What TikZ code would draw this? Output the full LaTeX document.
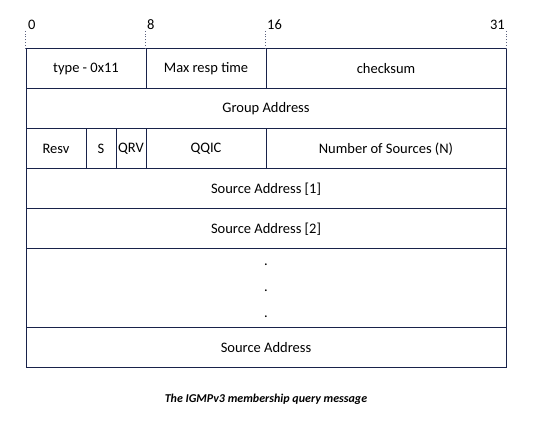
\documentclass[tikz,border=0pt]{standalone}
\usepackage{fontspec}
\setmainfont{Carlito}
\usepackage{tikz}

\definecolor{frame}{RGB}{24,34,74}

\tikzset{
  field/.style={draw=frame, line width=1pt, inner sep=0pt, minimum height=40pt,
                font=\fontsize{14.5}{17}\selectfont},
  bitlabel/.style={inner sep=1.5pt, font=\fontsize{14.5}{17}\selectfont},
  tick/.style={draw=frame!70, line width=0.8pt, dotted}
}

\begin{document}
\begin{tikzpicture}[x=1pt, y=1pt]
\useasboundingbox (0,0) rectangle (539,-422);

% first word
\node (type) [field, minimum width=120pt] at (86,-69) {type - 0x11};
\node (maxresp) [field, minimum width=120pt] at (206,-69) {Max resp time};
\node (checksum) [field, minimum width=240pt] at (386,-69) {checksum};

\node (group) [field, minimum width=480pt] at (266,-109) {Group Address};

% third word
\node (resv) [field, minimum width=60pt] at (56,-149) {Resv};
\node (sflag) [field, minimum width=30pt] at (101,-149) {S};
\node (qrv) [field, minimum width=30pt] at (131,-149) {QRV};
\node (qqic) [field, minimum width=120pt] at (206,-149) {QQIC};
\node (nsrc) [field, minimum width=240pt] at (386,-149) {Number of Sources (N)};

\node (src1) [field, minimum width=480pt] at (266,-189) {Source Address [1]};
\node (src2) [field, minimum width=480pt] at (266,-229) {Source Address [2]};
\node (gap) [field, minimum width=480pt, minimum height=79pt] at (266,-288.5) {};
\node (dot1) [bitlabel] at (266,-265) {.};
\node (dot2) [bitlabel] at (266,-291) {.};
\node (dot3) [bitlabel] at (266,-317) {.};
\node (srcn) [field, minimum width=480pt] at (266,-347.5) {Source Address};

% bit positions
\draw [tick] (type.north west) -- ++(0,17) coordinate (b0);
\draw [tick] (maxresp.north west) -- ++(0,17) coordinate (b8);
\draw [tick] (checksum.north west) -- ++(0,17) coordinate (b16);
\draw [tick] (checksum.north east) -- ++(0,17) coordinate (b31);
\node (l0) [bitlabel, anchor=south west] at ([xshift=1pt]b0) {0};
\node (l8) [bitlabel, anchor=south west] at (b8) {8};
\node (l16) [bitlabel, anchor=south west] at (b16) {16};
\node (l31) [bitlabel, anchor=south east] at (b31) {31};

\node (caption) at (266,-399) {\fontsize{12}{14}\selectfont\bfseries\itshape The IGMPv3 membership query message};

\end{tikzpicture}
\end{document}
